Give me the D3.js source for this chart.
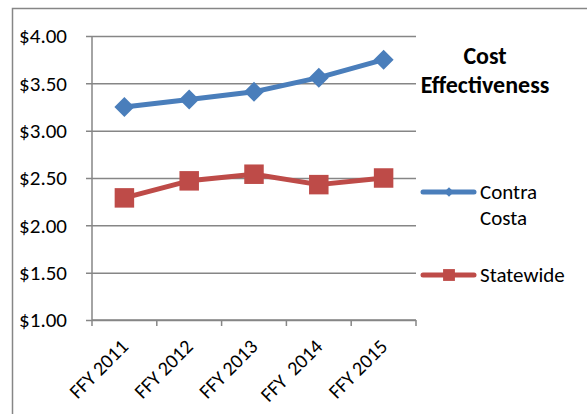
<!DOCTYPE html>
<html>
<head>
<meta charset="utf-8">
<script src="https://cdn.jsdelivr.net/npm/d3@7"></script>
<style>
  body { margin: 0; background: #fff; }
  text { font-family: Carlito, Calibri, Lato, "Open Sans", sans-serif; fill: #000; }
</style>
</head>
<body>
<div id="chart"></div>
<script>
const width = 587, height = 414;

const years = ["FFY 2011", "FFY 2012", "FFY 2013", "FFY  2014", "FFY 2015"];
const contraCosta = [3.25, 3.33, 3.41, 3.56, 3.75];
const statewide = [2.29, 2.47, 2.54, 2.43, 2.50];
const yTicks = [1, 1.5, 2, 2.5, 3, 3.5, 4];

const blue = "#4a7ebb", red = "#be4b48", grid = "#868686";

const svg = d3.select("#chart")
	.append("svg")
	.attr("width", width)
	.attr("height", height);

// outer frame (only top and left show in the picture)
svg.append("path")
	.attr("d", `M12.5,${height} V8.5 H${width}`)
	.attr("fill", "none")
	.attr("stroke", grid)
	.attr("stroke-width", 1.5);

const x = d3.scaleBand()
	.domain(years)
	.range([92, 416]);

const y = d3.scaleLinear()
	.domain([1, 4])
	.range([320, 36]);

// gridlines + y labels
const yAxis = svg.append("g")
	.attr("transform", "translate(92,0)")
	.call(d3.axisLeft(y)
		.tickValues(yTicks)
		.tickSize(-324)
		.tickPadding(25)
		.tickFormat(d => "$" + d3.format(".2f")(d)));
yAxis.select(".domain").remove();
yAxis.selectAll(".tick line")
	.attr("x1", -6)
	.attr("stroke", grid)
	.attr("stroke-width", 1.5);
yAxis.selectAll(".tick text")
	.style("font-size", "21px");

// y axis line
svg.append("line")
	.attr("x1", 92).attr("x2", 92)
	.attr("y1", y(4)).attr("y2", y(1))
	.attr("stroke", grid).attr("stroke-width", 1.5);

// x axis line + ticks at band edges
svg.append("line")
	.attr("x1", 92).attr("x2", 416)
	.attr("y1", y(1)).attr("y2", y(1))
	.attr("stroke", grid).attr("stroke-width", 1.5);

const edges = years.map(d => x(d)).concat([x.range()[1]]);
svg.selectAll(".xtick")
	.data(edges)
	.enter()
	.append("line")
	.attr("x1", d => d).attr("x2", d => d)
	.attr("y1", y(1)).attr("y2", y(1) + 6)
	.attr("stroke", grid).attr("stroke-width", 1.5);

svg.selectAll(".xlabel")
	.data(years)
	.enter()
	.append("text")
	.attr("transform", d => `translate(${x(d) + x.bandwidth() / 2},${y(1) + 23}) rotate(-45)`)
	.attr("text-anchor", "end")
	.attr("dy", "0.35em")
	.style("font-size", "20px")
	.style("white-space", "pre")
	.text(d => d);

const line = d3.line()
	.x((d, i) => x(years[i]) + x.bandwidth() / 2)
	.y(d => y(d));

// diamonds are squares turned 45 degrees
const series = [
	{name: "Contra Costa", values: contraCosta, color: blue, size: 200, legendSize: 45, turn: 45},
	{name: "Statewide", values: statewide, color: red, size: 380, legendSize: 140, turn: 0}
];

series.forEach(function(s) {
	svg.append("path")
		.datum(s.values)
		.attr("d", line)
		.attr("fill", "none")
		.attr("stroke", s.color)
		.attr("stroke-width", 5)
		.attr("stroke-linejoin", "round");

	svg.selectAll(null)
		.data(s.values)
		.enter()
		.append("path")
		.attr("transform", (d, i) => `translate(${x(years[i]) + x.bandwidth() / 2},${y(d)}) rotate(${s.turn})`)
		.attr("d", d3.symbol().type(d3.symbolSquare).size(s.size))
		.attr("fill", s.color);
});

// title
const title = svg.append("text")
	.attr("x", 485)
	.attr("y", 64)
	.attr("text-anchor", "middle")
	.style("font-size", "24px")
	.style("font-weight", "bold");
title.append("tspan").attr("x", 485).text("Cost");
title.append("tspan").attr("x", 485).attr("dy", 29).text("Effectiveness");

// legend
const legendY = [192, 275];
series.forEach(function(s, i) {
	const g = svg.append("g").attr("transform", `translate(0,${legendY[i]})`);
	g.append("line")
		.attr("x1", 423).attr("x2", 474)
		.attr("stroke", s.color)
		.attr("stroke-width", 5)
		.attr("stroke-linecap", "round");
	g.append("path")
		.attr("transform", `translate(449,0) rotate(${s.turn})`)
		.attr("d", d3.symbol().type(d3.symbolSquare).size(s.legendSize))
		.attr("fill", s.color);
	const t = g.append("text")
		.attr("x", 480)
		.attr("dy", "0.35em")
		.style("font-size", "21px");
	if (i === 0) {
		t.append("tspan").attr("x", 480).text("Contra");
		t.append("tspan").attr("x", 480).attr("dy", 26).text("Costa");
	} else {
		t.text(s.name);
	}
});
</script>
</body>
</html>
